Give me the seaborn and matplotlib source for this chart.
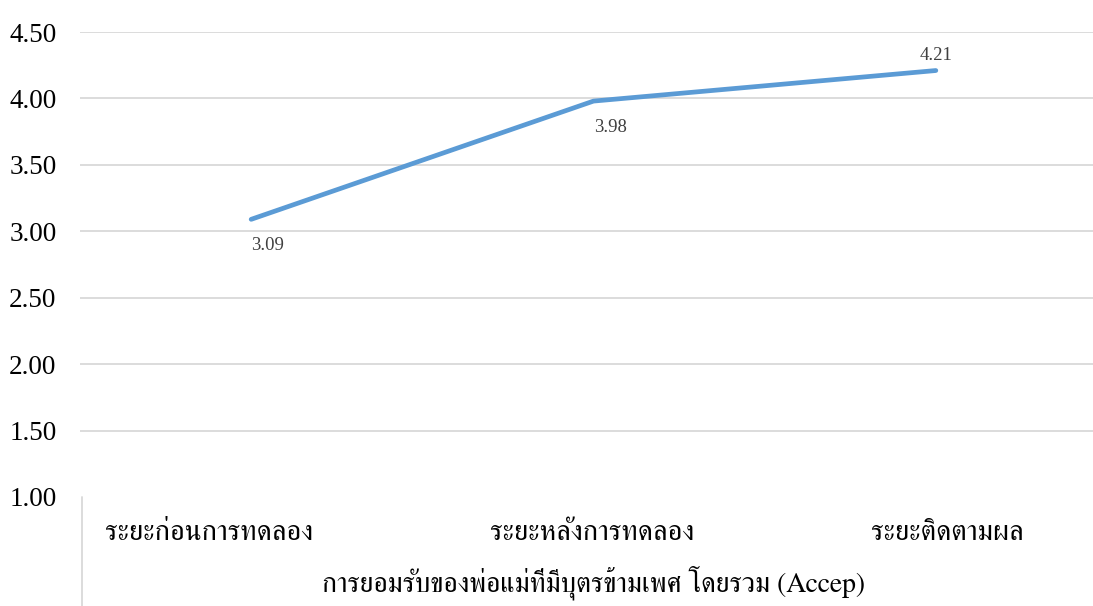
import matplotlib
matplotlib.use("Agg")
import matplotlib.pyplot as plt
import matplotlib.transforms as mtransforms
import seaborn as sns
import pandas as pd
from matplotlib import font_manager
from matplotlib.ft2font import FT2Font

phases = ["ระยะก่อนการทดลอง", "ระยะหลังการทดลอง", "ระยะติดตามผล"]
scores = [3.09, 3.98, 4.21]
y_ticks = [1.00, 1.50, 2.00, 2.50, 3.00, 3.50, 4.00, 4.50]
group_label = "การยอมรับของพ่อแม่ที่มีบุตรข้ามเพศ โดยรวม (Accep)"


def find_thai_font():
    # look for an installed font with Thai glyphs, serif regular first
    found = []
    for path in sorted(font_manager.findSystemFonts()):
        try:
            f = FT2Font(path)
            if 0x0E23 in f.get_charmap():
                found.append(path)
        except Exception:
            pass
    if not found:
        return "DejaVu Sans"

    def rank(p):
        name = p.lower()
        return (("serif" not in name), ("regular" not in name), ("bold" in name), name)

    best = sorted(found, key=rank)[0]
    font_manager.fontManager.addfont(best)
    return font_manager.FontProperties(fname=best).get_name()


thai_font = find_thai_font()

sns.set_style("white")
plt.rcParams["font.family"] = ["Liberation Serif", thai_font, "DejaVu Sans"]

df = pd.DataFrame({"phase": phases, "score": scores})

fig = plt.figure(figsize=(10.93, 6.06), dpi=100)
ax = fig.add_axes([80 / 1093, 109 / 606, 1027 / 1093, 465 / 606])

sns.lineplot(data=df, x="phase", y="score", sort=False, color="#5B9BD5",
             linewidth=3.4, ax=ax)

ax.set_xlim(-0.5, 2.5)
ax.set_ylim(1.0, 4.5)
ax.set_yticks(y_ticks)
ax.set_yticklabels([f"{v:.2f}" for v in y_ticks])
for v in y_ticks[1:]:
    ax.axhline(v, color="#D9D9D9", linewidth=1.3, zorder=0)

for s in ax.spines.values():
    s.set_visible(False)
ax.tick_params(axis="y", length=0, pad=17, labelsize=19.5, labelcolor="black")
ax.tick_params(axis="x", length=0, pad=17, labelsize=20.5, labelcolor="black")

# category labels sit a little off the point centres in the original
label_shift = [-42, -1, 11]
for lab, dx in zip(ax.get_xticklabels(), label_shift):
    lab.set_fontfamily([thai_font, "Liberation Serif"])
    lab.set_fontweight("light")
    lab.set_transform(lab.get_transform() +
                      mtransforms.ScaledTranslation(dx / 100, 0, fig.dpi_scale_trans))

# data labels
offsets = [(12, -19), (12, -19), (0, 11)]
for i, v in enumerate(scores):
    ax.annotate(f"{v:.2f}", (i, v), xytext=offsets[i],
                textcoords="offset points", ha="center", va="center",
                fontsize=13.5, color="#404040")

# vertical separator of the category axis
ax.plot([0.0015, 0.0015], [0, -0.235], transform=ax.transAxes,
        color="#D9D9D9", linewidth=1.3, clip_on=False)

ax.set_xlabel(group_label, fontsize=20, labelpad=14, color="black",
              family=[thai_font, "Liberation Serif"], fontweight="light")
ax.set_ylabel("")

fig.savefig("out.png", dpi=100)
